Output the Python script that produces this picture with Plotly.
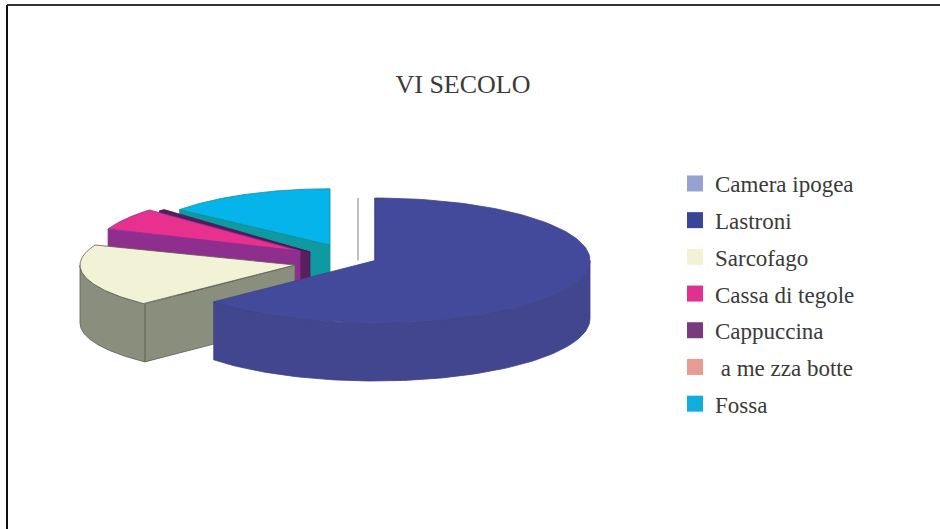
import numpy as np
import plotly.graph_objects as go

# Burial types and their percentage shares, in the order the pie runs clockwise from 12 o'clock
categories = ["Camera ipogea", "Lastroni", "Sarcofago", "Cassa di tegole",
              "Cappuccina", " a me zza botte", "Fossa"]
shares = [0.0, 63.5, 17.5, 6.0, 0.5, 0.0, 12.5]

# Colours: top face, side wall, outline, legend swatch
top_colors = ["#ffffff", "#444a9b", "#f2f3d6", "#e8318f", "#5a1f60", "#ffffff", "#06b4ec"]
side_colors = ["#ffffff", "#41468f", "#8a8e7c", "#8e2f8f", "#5a1f60", "#ffffff", "#0e9aa0"]
edge_colors = ["#aaaaaa", "#3d4288", "#5c6052", "#8e2f8f", "#4a1850", None, "#0e8f99"]
legend_colors = ["#96a3d0", "#3b4597", "#f2f3d6", "#e0318f", "#7a3a80", "#e89a95", "#12acdf"]

# Pie projection, in axis units (the axes span the page one unit per pixel)
RX, RY, DEPTH = 215.0, 62.5, 58.0
# Where each exploded slice's tip lands, and its perspective scale
tip_x = [358, 375, 295, 300, 310, 330, 330]
tip_y = [260.5, 260.5, 265, 251, 252, 245, 245]
scale = [1.0, 1.0, 1.0, 0.96, 0.96, 0.9, 0.9]
squash = [1.0, 1.0, 0.87, 1.0, 1.0, 1.0, 1.0]
# Perspective pulls a slice's leading edge round by a few degrees
lead_shift_deg = [0, 0, -4.3, 0, 0, 0, -6]

# Back-to-front painting order
paint_order = [0, 6, 4, 3, 2, 1]

fig = go.Figure()


def add_poly(xs, ys, fill, line, width=0.8):
    fig.add_trace(go.Scatter(
        x=xs, y=ys, mode="lines", fill="toself", fillcolor=fill,
        line=dict(color=line, width=width), showlegend=False, hoverinfo="skip",
    ))


edges = np.cumsum([0.0] + shares) / 100.0 * 2 * np.pi

for i in paint_order:
    a0 = edges[i] + np.radians(lead_shift_deg[i])
    a1 = edges[i + 1]
    cx, cy = tip_x[i], tip_y[i]
    sx, sy = RX * scale[i], RY * scale[i] * squash[i]
    if edge_colors[i] is None:
        continue
    if shares[i] == 0:
        # An empty slice shows only as a radial hairline
        fig.add_trace(go.Scatter(
            x=[cx, cx + sx * np.sin(a0)], y=[cy, cy - sy * np.cos(a0)],
            mode="lines", line=dict(color=edge_colors[i], width=1.5),
            showlegend=False, hoverinfo="skip",
        ))
        continue

    t = np.linspace(a0, a1, 120)
    rim_x = cx + sx * np.sin(t)
    rim_y = cy - sy * np.cos(t)

    # Cut wall on the leading radial edge (the trailing one faces away)
    ex, ey = rim_x[0], rim_y[0]
    add_poly([cx, ex, ex, cx, cx], [cy, ey, ey + DEPTH, cy + DEPTH, cy],
             side_colors[i], edge_colors[i])

    # Outer wall: only the arc on the viewer's side of the pie
    f0, f1 = max(a0, np.pi / 2), min(a1, 3 * np.pi / 2)
    if f1 > f0:
        ft = np.linspace(f0, f1, 100)
        fx = cx + sx * np.sin(ft)
        fy = cy - sy * np.cos(ft)
        add_poly(np.r_[fx, fx[::-1], fx[0]], np.r_[fy, fy[::-1] + DEPTH, fy[0]],
                 side_colors[i], edge_colors[i])

    # Top face
    add_poly(np.r_[cx, rim_x, cx], np.r_[cy, rim_y, cy], top_colors[i], edge_colors[i])

# Legend entries, one group each so the gap sets the row spacing
for name, color in zip(categories, legend_colors):
    fig.add_trace(go.Scatter(
        x=[None], y=[None], mode="markers", name=name, legendgroup=name,
        marker=dict(symbol="square", size=16, color=color),
    ))

fig.update_layout(
    width=940, height=529, autosize=False,
    margin=dict(l=0, r=0, t=0, b=0),
    paper_bgcolor="#ffffff", plot_bgcolor="#ffffff",
    font=dict(family="Liberation Serif", color="#3a3a3a"),
    title=dict(text="VI SECOLO", x=463 / 940, y=1 - 84 / 529, xanchor="center", yanchor="middle",
               font=dict(family="Liberation Serif", size=26, color="#3a3a3a")),
    xaxis=dict(range=[0, 940], visible=False, fixedrange=True),
    yaxis=dict(range=[529, 0], visible=False, fixedrange=True),
    legend=dict(x=675 / 940, y=1 - 162 / 529, xanchor="left", yanchor="top",
                font=dict(size=23), tracegroupgap=3.8, bgcolor="rgba(0,0,0,0)",
                itemwidth=30),
    shapes=[
        dict(type="line", xref="x", yref="y", x0=7, x1=7, y0=5, y1=529,
             line=dict(color="#111111", width=2)),
        dict(type="line", xref="x", yref="y", x0=7, x1=940, y0=5, y1=5,
             line=dict(color="#333333", width=2)),
    ],
)

fig.write_html("out.html", config={"displayModeBar": False})
